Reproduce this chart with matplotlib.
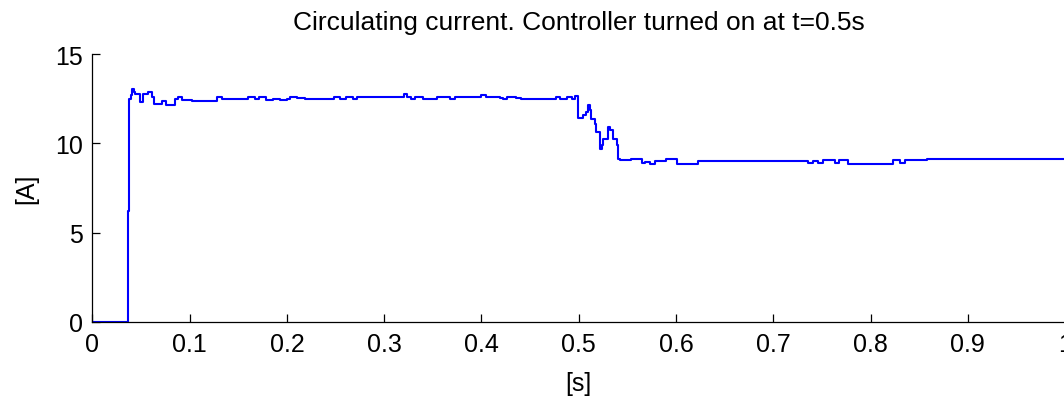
import matplotlib
matplotlib.use("Agg")
import matplotlib.pyplot as plt

plt.rcParams['font.family'] = ['Liberation Sans', 'DejaVu Sans']

# circulating current trace, controller switched on at t = 0.5 s
t = [0.0, 0.037, 0.038, 0.0395, 0.0405, 0.0429, 0.0439, 0.049, 0.0524,
     0.0576, 0.061, 0.0637, 0.0678, 0.0713, 0.0754, 0.0799, 0.085, 0.0884, 0.0919,
     0.102, 0.123, 0.128, 0.133, 0.150, 0.152, 0.160, 0.167, 0.171, 0.179,
     0.186, 0.193, 0.200, 0.203, 0.210, 0.219, 0.244, 0.248, 0.255, 0.261,
     0.268, 0.272, 0.296, 0.320, 0.323, 0.328, 0.332, 0.340, 0.350, 0.354,
     0.368, 0.373, 0.397, 0.400, 0.405, 0.419, 0.422, 0.426, 0.436, 0.441,
     0.477, 0.481, 0.488, 0.493, 0.496, 0.499, 0.4995, 0.5046, 0.508, 0.510,
     0.5115, 0.513, 0.5166, 0.518, 0.522, 0.5235, 0.525, 0.530, 0.532, 0.5355,
     0.539, 0.5406, 0.542, 0.554, 0.565, 0.568, 0.573, 0.578, 0.590, 0.5955,
     0.6006, 0.619, 0.623, 0.720, 0.736, 0.741, 0.746, 0.751, 0.763, 0.768,
     0.777, 0.820, 0.823, 0.830, 0.835, 0.840, 0.8576, 1.0]
i_circ = [0.0, 6.2, 12.5, 12.7, 13.07, 12.88, 12.79, 12.33, 12.79,
          12.85, 12.6, 12.23, 12.23, 12.36, 12.13, 12.17, 12.51, 12.6, 12.41,
          12.36, 12.36, 12.6, 12.47, 12.47, 12.51, 12.6, 12.51, 12.6, 12.42,
          12.51, 12.42, 12.51, 12.6, 12.55, 12.51, 12.51, 12.6, 12.51, 12.6,
          12.51, 12.6, 12.6, 12.74, 12.6, 12.51, 12.6, 12.51, 12.51, 12.6,
          12.51, 12.6, 12.6, 12.7, 12.6, 12.55, 12.51, 12.6, 12.55, 12.51,
          12.6, 12.51, 12.6, 12.51, 12.65, 12.6, 11.43, 11.57, 11.76, 12.13,
          11.85, 11.39, 11.1, 10.64, 9.7, 9.89, 10.26, 10.92, 10.73, 10.26,
          9.89, 9.14, 9.05, 9.1, 8.9, 8.95, 8.86, 9.01, 9.14, 9.1,
          8.86, 8.86, 9.01, 9.01, 8.9, 9.01, 8.9, 9.05, 8.9, 9.05,
          8.86, 8.86, 9.05, 8.9, 9.05, 9.05, 9.14, 9.14]

xticks = [0, 0.1, 0.2, 0.3, 0.4, 0.5, 0.6, 0.7, 0.8, 0.9, 1]
xticklabels = ['0', '0.1', '0.2', '0.3', '0.4', '0.5', '0.6', '0.7', '0.8', '0.9', '1']
yticks = [0, 5, 10, 15]

fig = plt.figure(figsize=(10.64, 4.02), dpi=100)
ax = fig.add_axes([0.0868, 0.197, 0.9142, 0.666])

ax.plot(t, i_circ, color='#0000ff', lw=1.5, drawstyle='steps-post')

ax.set_xlim(0, 1)
ax.set_ylim(0, 15)
ax.set_xticks(xticks)
ax.set_xticklabels(xticklabels)
ax.set_yticks(yticks)
ax.tick_params(direction='in', length=6, width=0.9, labelsize=18, pad=7, colors='black')
for side in ['top', 'right']:
    ax.spines[side].set_visible(False)
for side in ['left', 'bottom']:
    ax.spines[side].set_linewidth(0.9)

ax.set_title('Circulating current. Controller turned on at t=0.5s', fontsize=19, pad=18)
ax.set_xlabel('[s]', fontsize=18, labelpad=11)
ax.set_ylabel('[A]', fontsize=18, labelpad=12)

fig.savefig('out.png', dpi=100)
